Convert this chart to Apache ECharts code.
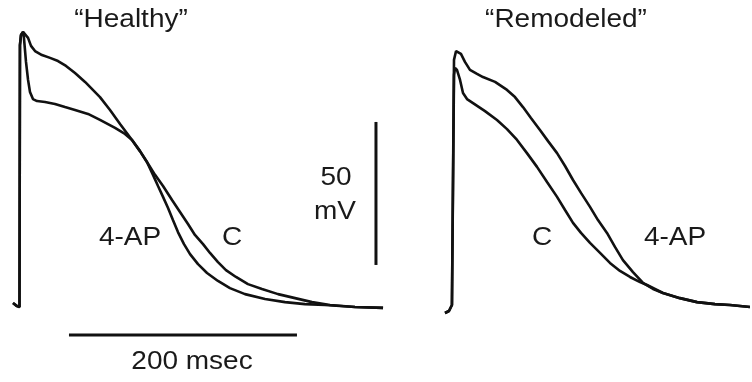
<!DOCTYPE html>
<html>
<head>
<meta charset="utf-8">
<script src="https://cdn.jsdelivr.net/npm/echarts@6/dist/echarts.min.js"></script>
<style>
  html, body { margin: 0; padding: 0; background: #fff; }
  #main { width: 752px; height: 382px; }
</style>
</head>
<body>
<div id="main"></div>
<script>
// time in msec from upstroke, voltage in mV
var healthyC = [[-5.7,-83.6],[-2.2,-84.7],[0,-85],[0.4,6.6],[1.3,10.1],[3.1,11.2],[4.8,10.8],[7.5,9.1],[10.1,6.3],[13.6,4.5],[19.7,3.1],[26.8,2.1],[33.8,1.0],[40.8,-0.7],[48.7,-3.2],[57.5,-6.3],[70.6,-11.6],[79.4,-16.1],[88.2,-21.0],[98.7,-26.6],[105.7,-30.5],[111.8,-34.3],[118.9,-38.8],[125.9,-42.7],[133.8,-47.6],[140.8,-51.8],[147.8,-56.0],[153.9,-59.8],[161.0,-63.0],[167.1,-66.1],[174.1,-69.3],[181.1,-72.1],[189.9,-74.5],[200.4,-77.0],[212.7,-78.7],[226.8,-80.5],[241.7,-81.9],[256.6,-83.3],[272.4,-84.3],[294.3,-85],[318.9,-85.3]];
var healthy4AP = [[-5.7,-83.6],[-2.2,-84.7],[0,-85],[0.4,6.6],[1.3,10.1],[3.1,11.2],[3.9,9.1],[5.7,0.7],[7.5,-5.6],[9.2,-9.8],[11.8,-12.3],[15.4,-13.0],[22.4,-13.3],[31.1,-14.0],[39.9,-15.1],[48.7,-16.1],[60.1,-17.5],[70.6,-19.6],[83.8,-22.4],[92.5,-24.5],[98.7,-26.6],[105.7,-30.5],[111.8,-34.3],[117.1,-38.8],[121.5,-42.7],[125.9,-46.5],[130.3,-50.4],[134.6,-54.6],[139.0,-58.8],[144.3,-63.0],[149.6,-66.5],[156.6,-70.0],[164.5,-73.1],[174.1,-75.9],[184.6,-78.4],[197.8,-80.5],[215.4,-82.2],[232.9,-83.3],[250.4,-84.0],[268.0,-84.3],[294.3,-85],[318.9,-85.3]];
var remodC = [[-7.9,-87.1],[-4.4,-86.4],[-1.8,-84.3],[0,-3.9],[0.9,-1.4],[2.6,-2.1],[5.3,-5.6],[7.9,-10.2],[11.4,-12.3],[16.7,-13.7],[27.2,-16.5],[37.7,-19.6],[46.5,-22.8],[55.3,-26.6],[64.0,-31.2],[72.8,-36.0],[81.6,-41.3],[90.4,-46.5],[97.4,-51.1],[104.4,-55.6],[111.4,-59.1],[119.3,-62.6],[128.1,-66.1],[136.8,-69.6],[145.6,-72.4],[154.4,-74.5],[163.2,-76.3],[169.3,-77.3],[176.3,-78.7],[183.3,-80.1],[198.2,-81.9],[213.2,-83.3],[228.9,-84.0],[242.1,-84.3],[259.6,-85]];
var remod4AP = [[-7.9,-87.1],[-4.4,-86.4],[-1.8,-84.3],[0,1.4],[1.8,4.5],[3.5,4.9],[6.1,3.5],[9.6,0.7],[14.0,-2.1],[20.2,-3.5],[25.4,-4.6],[36.0,-6.3],[46.5,-9.1],[53.5,-11.6],[60.5,-15.1],[67.5,-18.9],[75.4,-23.1],[82.5,-27.0],[90.4,-31.2],[97.4,-35.7],[104.4,-40.6],[111.4,-45.1],[119.3,-50.0],[126.3,-54.6],[134.2,-59.1],[141.2,-64.0],[148.2,-68.6],[157.0,-72.8],[165.8,-76.6],[174.6,-78.7],[183.3,-80.1],[198.2,-81.9],[213.2,-83.3],[228.9,-84.0],[242.1,-84.3],[259.6,-85]];

// scale bars: 200 msec and 50 mV
var timeBar = [[43.4,-94.8],[243.4,-94.8]];
var voltBar = [[312.7,-20.3],[312.7,-70.3]];

var titles = ['\u201cHealthy\u201d', '\u201cRemodeled\u201d'];

var myChart = echarts.init(document.getElementById('main'));

var pxPerMs = 1.14, pxPerMv = 2.86;
var restY = 307; // pixel row of -85 mV
var yMax = -85 + restY / pxPerMv;
var yMin = -85 - (382 - restY) / pxPerMv;

function xAxisFor(gridIdx, left, width, originPx) {
    return {
        type: 'value', gridIndex: gridIdx, show: false,
        min: (left - originPx) / pxPerMs,
        max: (left + width - originPx) / pxPerMs
    };
}

var ink = '#111';
function trace(data, g) {
    return {
        type: 'line', xAxisIndex: g, yAxisIndex: g, data: data,
        showSymbol: false, symbol: 'none', smooth: false,
        lineStyle: { color: ink, width: 2.6 }, silent: true
    };
}

function label(text, x, y, size) {
    return {
        type: 'text', x: x, y: y, scaleX: 1.12, silent: true,
        style: {
            text: text, fill: '#1a1a1a', align: 'center', verticalAlign: 'middle',
            font: (size || 25) + 'px "Liberation Sans", Arial, sans-serif'
        }
    };
}

var option = {
    animation: false,
    backgroundColor: '#fff',
    grid: [
        { left: 0, top: 0, width: 420, height: 382 },
        { left: 420, top: 0, width: 332, height: 382 }
    ],
    xAxis: [xAxisFor(0, 0, 420, 19.5), xAxisFor(1, 420, 332, 454)],
    yAxis: [
        { type: 'value', gridIndex: 0, show: false, min: yMin, max: yMax },
        { type: 'value', gridIndex: 1, show: false, min: yMin, max: yMax }
    ],
    series: [
        trace(healthyC, 0),
        trace(healthy4AP, 0),
        trace(remodC, 1),
        trace(remod4AP, 1),
        {
            type: 'line', xAxisIndex: 0, yAxisIndex: 0, data: timeBar, symbol: 'none',
            lineStyle: { color: ink, width: 3 }, silent: true
        },
        {
            type: 'line', xAxisIndex: 0, yAxisIndex: 0, data: voltBar, symbol: 'none',
            lineStyle: { color: ink, width: 3 }, silent: true
        }
    ],
    graphic: [
        label(titles[0], 131, 20),
        label(titles[1], 566, 20),
        label('4-AP', 130, 238),
        label('C', 232, 238),
        label('50', 336, 178),
        label('mV', 335, 212),
        label('C', 542, 238),
        label('4-AP', 675, 238),
        label('200 msec', 192, 362)
    ]
};
myChart.setOption(option);
</script>
</body>
</html>
